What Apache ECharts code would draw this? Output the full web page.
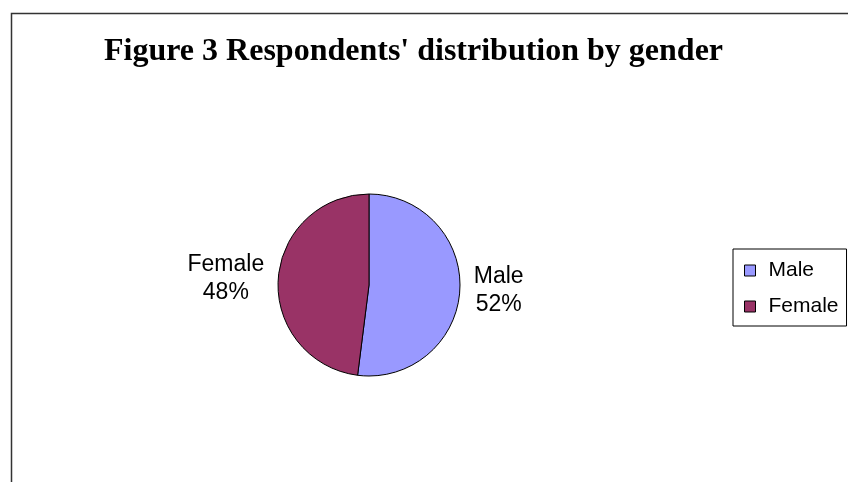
<!DOCTYPE html>
<html>
<head>
<meta charset="utf-8">
<script src="https://cdn.jsdelivr.net/npm/echarts@6/dist/echarts.min.js"></script>
<style>
  html, body { margin: 0; padding: 0; background: #fff; }
  #chart { width: 848px; height: 482px; }
</style>
</head>
<body>
<div id="chart"></div>
<script>
const categories = ['Male', 'Female'];
const shares = [52, 48];
const sliceColors = ['#9999ff', '#993366'];

const chart = echarts.init(document.getElementById('chart'));

chart.setOption({
  backgroundColor: '#fff',
  animation: false,
  color: sliceColors,
  title: {
    text: "Figure 3 Respondents' distribution by gender",
    left: 104,
    top: 36,
    padding: 0,
    textStyle: {
      fontFamily: 'Liberation Serif',
      fontWeight: 'bold',
      fontSize: 32,
      color: '#000',
    },
  },
  legend: {
    orient: 'vertical',
    left: 733,
    top: 249,
    padding: [11, 8, 9, 11],
    itemWidth: 11,
    itemHeight: 11,
    itemGap: 15,
    icon: 'rect',
    borderColor: '#000',
    borderWidth: 1,
    borderRadius: 0,
    itemStyle: { borderColor: '#000', borderWidth: 1 },
    textStyle: {
      fontFamily: 'Liberation Sans',
      fontSize: 21,
      lineHeight: 20,
      color: '#000',
      padding: [0, 0, 0, 8],
    },
    data: categories,
  },
  graphic: [
    {
      type: 'rect',
      silent: true,
      shape: { x: 11.5, y: 13.5, width: 900, height: 600 },
      style: { fill: 'none', stroke: '#333', lineWidth: 1.5 },
    },
  ],
  series: [
    {
      type: 'pie',
      center: [369, 285],
      radius: 91,
      startAngle: 90,
      clockwise: true,
      itemStyle: { borderColor: '#000', borderWidth: 1 },
      label: {
        show: true,
        position: 'outside',
        formatter: (p) => `{t|${p.name}}\n{t|${p.percent}%}`,
        rich: {
          t: {
            fontFamily: 'Liberation Sans',
            fontSize: 23,
            lineHeight: 28,
            color: '#000',
            align: 'center',
          },
        },
      },
      labelLine: { show: false, length: 5, length2: 4 },
      emphasis: { disabled: true },
      data: categories.map((name, i) => ({ name, value: shares[i] })),
    },
  ],
});
</script>
</body>
</html>
